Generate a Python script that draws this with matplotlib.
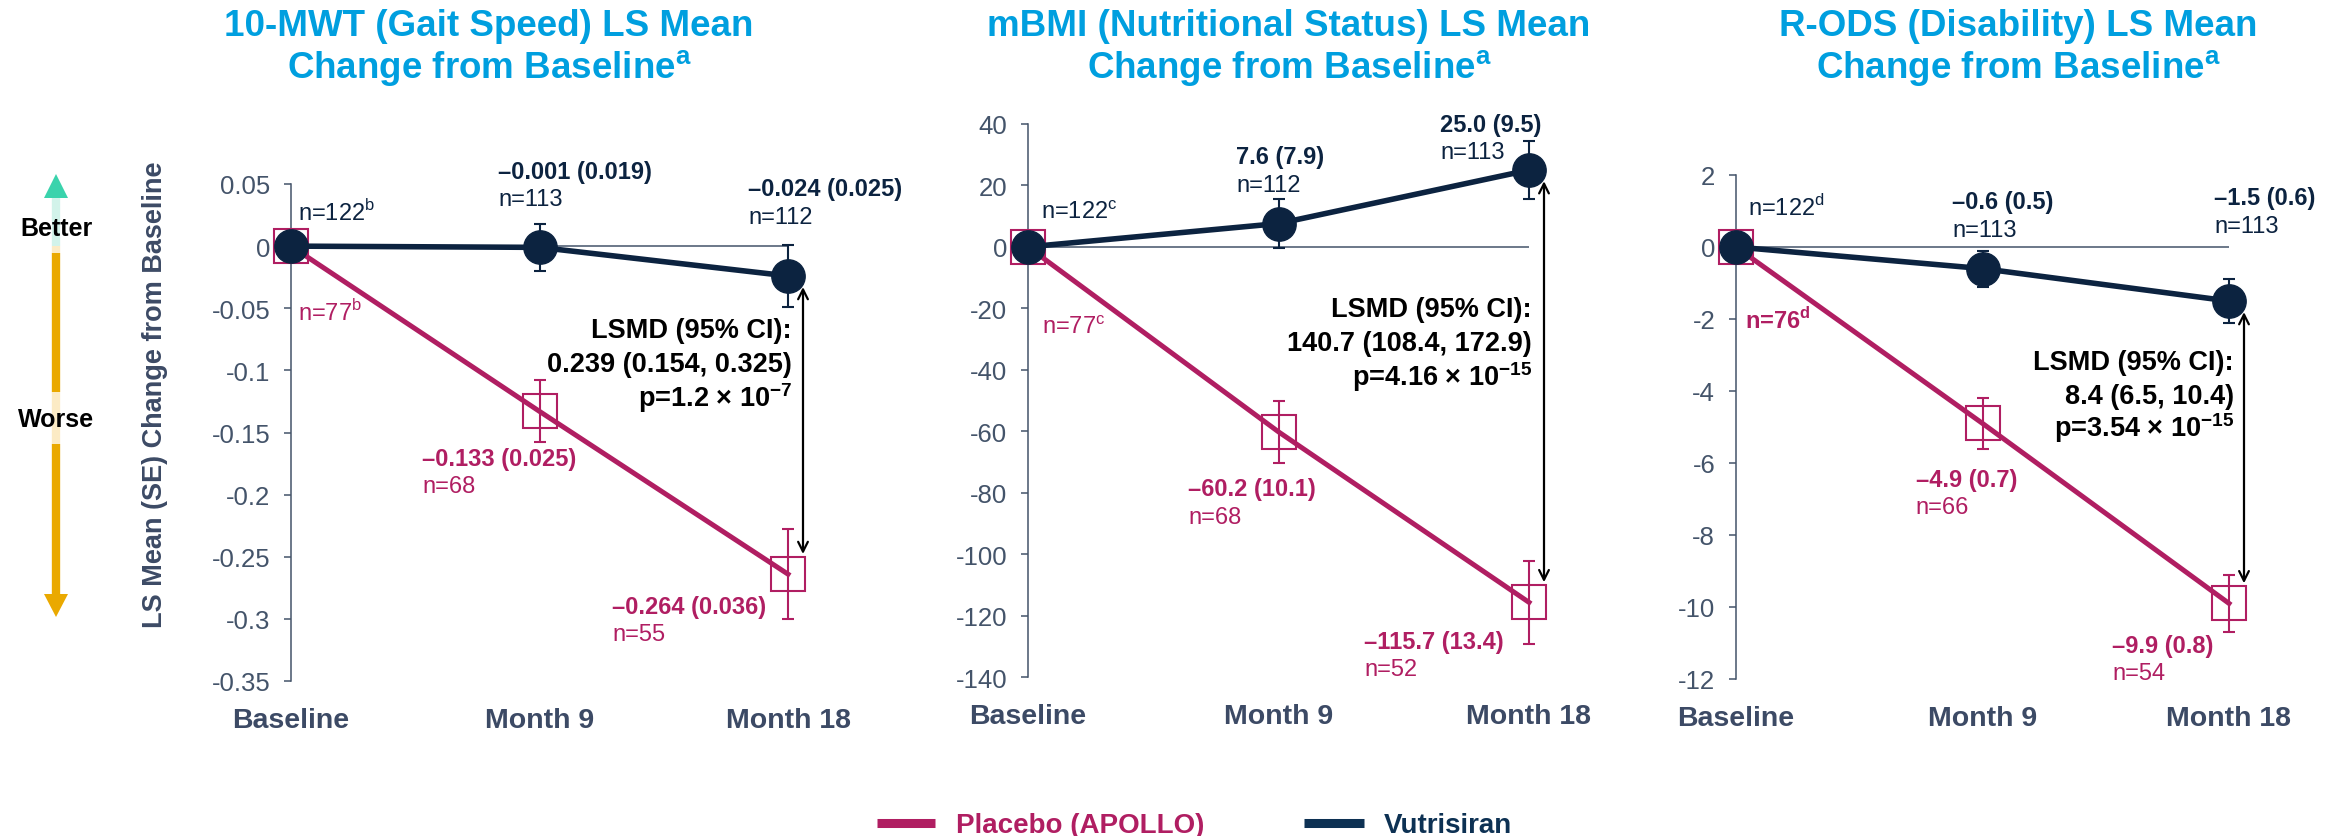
import matplotlib
matplotlib.use("Agg")
from matplotlib import pyplot as plt
from matplotlib.transforms import offset_copy
from matplotlib.patches import Polygon

plt.rcParams["font.family"] = ["Liberation Sans", "DejaVu Sans"]
plt.rcParams["mathtext.fontset"] = "custom"
plt.rcParams["mathtext.rm"] = "Liberation Sans"
plt.rcParams["mathtext.bf"] = "Liberation Sans:bold"
plt.rcParams["axes.unicode_minus"] = False

W, H, DPI = 2343, 837, 100

PLACEBO = "#B01E62"
VUTRI = "#0C2340"
SLATE = "#44546A"
XLAB = "#3C4A65"
TITLE_BLUE = "#009FDF"

visits = ["Baseline", "Month 9", "Month 18"]

# 10-MWT gait speed
mwt_vut = [0, -0.001, -0.024]
mwt_vut_se = [0, 0.019, 0.025]
mwt_vut_n = [122, 113, 112]
mwt_plc = [0, -0.133, -0.264]
mwt_plc_se = [0, 0.025, 0.036]
mwt_plc_n = [77, 68, 55]
mwt_ticks = [0.05, 0, -0.05, -0.1, -0.15, -0.2, -0.25, -0.3, -0.35]
mwt_lsmd = ["0.239 (0.154, 0.325)", "1.2", "-7"]

# mBMI nutritional status
bmi_vut = [0, 7.6, 25.0]
bmi_vut_se = [0, 7.9, 9.5]
bmi_vut_n = [122, 112, 113]
bmi_plc = [0, -60.2, -115.7]
bmi_plc_se = [0, 10.1, 13.4]
bmi_plc_n = [77, 68, 52]
bmi_ticks = [40, 20, 0, -20, -40, -60, -80, -100, -120, -140]
bmi_lsmd = ["140.7 (108.4, 172.9)", "4.16", "-15"]

# R-ODS disability
rods_vut = [0, -0.6, -1.5]
rods_vut_se = [0, 0.5, 0.6]
rods_vut_n = [122, 113, 113]
rods_plc = [0, -4.9, -9.9]
rods_plc_se = [0, 0.7, 0.8]
rods_plc_n = [76, 66, 54]
rods_ticks = [2, 0, -2, -4, -6, -8, -10, -12]
rods_lsmd = ["8.4 (6.5, 10.4)", "3.54", "-15"]

panels = [
    dict(title="10-MWT (Gait Speed) LS Mean", title_x=489,
         vut=mwt_vut, vut_se=mwt_vut_se, vut_n=mwt_vut_n,
         plc=mwt_plc, plc_se=mwt_plc_se, plc_n=mwt_plc_n,
         ticks=mwt_ticks, fmt="{:.3f}", foot="b", lsmd=mwt_lsmd,
         rect=(291, 185, 788, 682), lsmd_xy=(792, [331, 365, 398]),
         vut_off=[(7, -34), (-41, -76), (-40, -87)],
         plc_off=[(7, 66), (-117, 47), (-176, 32)],
         plc_n_bold=False),
    dict(title="mBMI (Nutritional Status) LS Mean", title_x=1289,
         vut=bmi_vut, vut_se=bmi_vut_se, vut_n=bmi_vut_n,
         plc=bmi_plc, plc_se=bmi_plc_se, plc_n=bmi_plc_n,
         ticks=bmi_ticks, fmt="{:.1f}", foot="c", lsmd=bmi_lsmd,
         rect=(1028, 125, 1529, 678), lsmd_xy=(1532, [310, 344, 377]),
         vut_off=[(13, -35), (-42, -67), (-89, -46)],
         plc_off=[(14, 80), (-90, 57), (-165, 39)],
         plc_n_bold=False),
    dict(title="R-ODS (Disability) LS Mean", title_x=2018,
         vut=rods_vut, vut_se=rods_vut_se, vut_n=rods_vut_n,
         plc=rods_plc, plc_se=rods_plc_se, plc_n=rods_plc_n,
         ticks=rods_ticks, fmt="{:.1f}", foot="d", lsmd=rods_lsmd,
         rect=(1736, 176, 2229, 680), lsmd_xy=(2234, [363, 397, 428]),
         vut_off=[(12, -40), (-30, -67), (-15, -103)],
         plc_off=[(9, 73), (-67, 56), (-117, 42)],
         plc_n_bold=True),
]

N_GAP = 28  # pixels between value line and n line

fig = plt.figure(figsize=(W / DPI, H / DPI), dpi=DPI)


def px_axes(left, top, right, bottom):
    return fig.add_axes([left / W, 1 - bottom / H, (right - left) / W, (bottom - top) / H])


def value_text(v, se, fmt):
    return (fmt.format(v) + " (" + fmt.format(se) + ")").replace("-", "\u2013")


for p in panels:
    ax = px_axes(*p["rect"])
    ax.set_facecolor("none")
    x = list(range(len(visits)))
    ax.set_xlim(0, 2)
    ax.set_ylim(p["ticks"][-1], p["ticks"][0])

    ax.plot([0, 2], [0, 0], color=SLATE, lw=1.1, zorder=1)

    # placebo
    ax.errorbar(x[1:], p["plc"][1:], yerr=p["plc_se"][1:], fmt="none", ecolor=PLACEBO,
                elinewidth=1.5, capsize=4.5, capthick=1.5, zorder=3, clip_on=False)
    ax.plot(x, p["plc"], color=PLACEBO, lw=3.6, zorder=3, clip_on=False)
    ax.plot(x, p["plc"], "s", ms=24, mfc="none", mec=PLACEBO, mew=1.5, zorder=3, clip_on=False)

    # vutrisiran
    ax.errorbar(x[1:], p["vut"][1:], yerr=p["vut_se"][1:], fmt="none", ecolor=VUTRI,
                elinewidth=1.5, capsize=4.5, capthick=1.5, zorder=4, clip_on=False)
    ax.plot(x, p["vut"], color=VUTRI, lw=4.0, zorder=5, clip_on=False)
    ax.plot(x, p["vut"], "o", ms=24, mfc=VUTRI, mec=VUTRI, zorder=5, clip_on=False)

    # LSMD arrow, nudged right of the Month 18 points
    shift = offset_copy(ax.transData, fig=fig, x=15, y=0, units="dots")
    ax.annotate("", xy=(2, p["plc"][2]), xytext=(2, p["vut"][2]),
                xycoords=shift, textcoords=shift,
                arrowprops=dict(arrowstyle="<->,head_length=0.7,head_width=0.35",
                                color="black", lw=1.6, shrinkA=8, shrinkB=14.5),
                zorder=2, annotation_clip=False)

    # value and n labels
    for i in range(3):
        dx, dy = p["vut_off"][i]
        if i == 0:
            ax.annotate("n=%d$^{\\mathrm{%s}}$" % (p["vut_n"][i], p["foot"]), (x[i], p["vut"][i]),
                        xytext=(dx, -dy), textcoords="offset pixels", ha="left", va="center",
                        fontsize=17, color=VUTRI, annotation_clip=False)
        else:
            ax.annotate(value_text(p["vut"][i], p["vut_se"][i], p["fmt"]), (x[i], p["vut"][i]),
                        xytext=(dx, -dy), textcoords="offset pixels", ha="left", va="center",
                        fontsize=17, fontweight="bold", color=VUTRI, annotation_clip=False)
            ax.annotate("n=%d" % p["vut_n"][i], (x[i], p["vut"][i]),
                        xytext=(dx, -dy - N_GAP), textcoords="offset pixels", ha="left",
                        va="center", fontsize=17, color=VUTRI, annotation_clip=False)

        dx, dy = p["plc_off"][i]
        if i == 0:
            if p["plc_n_bold"]:
                s = "n=%d$^{\\mathbf{%s}}$" % (p["plc_n"][i], p["foot"])
            else:
                s = "n=%d$^{\\mathrm{%s}}$" % (p["plc_n"][i], p["foot"])
            ax.annotate(s, (x[i], p["plc"][i]), xytext=(dx, -dy), textcoords="offset pixels",
                        ha="left", va="center", fontsize=17, color=PLACEBO,
                        fontweight="bold" if p["plc_n_bold"] else "normal",
                        annotation_clip=False)
        else:
            ax.annotate(value_text(p["plc"][i], p["plc_se"][i], p["fmt"]), (x[i], p["plc"][i]),
                        xytext=(dx, -dy), textcoords="offset pixels", ha="left", va="center",
                        fontsize=17, fontweight="bold", color=PLACEBO, annotation_clip=False)
            ax.annotate("n=%d" % p["plc_n"][i], (x[i], p["plc"][i]),
                        xytext=(dx, -dy - N_GAP), textcoords="offset pixels", ha="left",
                        va="center", fontsize=17, color=PLACEBO, annotation_clip=False)

    ax.set_yticks(p["ticks"])
    ax.set_yticklabels(["%g" % t for t in p["ticks"]])
    ax.set_xticks(x)
    ax.set_xticklabels(visits, fontweight="bold", color=XLAB, fontsize=20.5)
    for side in ["top", "right", "bottom"]:
        ax.spines[side].set_visible(False)
    ax.spines["left"].set_color(SLATE)
    ax.spines["left"].set_linewidth(1.1)
    ax.tick_params(axis="y", direction="out", length=5, width=1.1, color=SLATE,
                   labelcolor=SLATE, labelsize=18.5, pad=10)
    ax.tick_params(axis="x", length=0, pad=19)

# overlay in pixel coordinates for titles, side arrow, notes and legend
ov = fig.add_axes([0, 0, 1, 1], zorder=10)
ov.set_xlim(0, W)
ov.set_ylim(H, 0)
ov.axis("off")

for p in panels:
    ov.text(p["title_x"], 26, p["title"], ha="center", va="center", fontsize=26.5,
            fontweight="bold", color=TITLE_BLUE)
    ov.text(p["title_x"], 69, "Change from Baseline$^{\\mathbf{a}}$", ha="center", va="center",
            fontsize=26.5, fontweight="bold", color=TITLE_BLUE)
    rx, ys = p["lsmd_xy"]
    ov.text(rx, ys[0], "LSMD (95% CI):", ha="right", va="center", fontsize=19.5,
            fontweight="bold", color="black")
    ov.text(rx, ys[1], p["lsmd"][0], ha="right", va="center", fontsize=19.5,
            fontweight="bold", color="black")
    ov.text(rx, ys[2], "p=%s \u00d7 10$^{\\mathbf{%s}}$" % (p["lsmd"][1], p["lsmd"][2]),
            ha="right", va="center", fontsize=19.5, fontweight="bold", color="black")

ov.text(155, 395, "LS Mean (SE) Change from Baseline", rotation=90, ha="center", va="center",
        fontsize=19.5, fontweight="bold", color=XLAB)

# better / worse direction arrow
AX_X = 56
ov.add_patch(Polygon([(AX_X, 175), (AX_X - 12, 199), (AX_X + 12, 199)], closed=True,
                     color="#3AD3AC", lw=0))
ov.add_patch(Polygon([(AX_X, 618), (AX_X - 12, 595), (AX_X + 12, 595)], closed=True,
                     color="#EAA900", lw=0))
for y0, y1, c in [(199, 247, "#D2F3EA"), (247, 254, "#FCEBC5"), (254, 393, "#EAA900"),
                  (393, 445, "#FCEBC5"), (445, 596, "#EAA900")]:
    ov.plot([AX_X, AX_X], [y0, y1], color=c, lw=6, solid_capstyle="butt")
ov.text(AX_X, 229, "Better", ha="center", va="center", fontsize=18, fontweight="bold",
        color="black")
ov.text(AX_X, 420, "Worse", ha="center", va="center", fontsize=18, fontweight="bold",
        color="black")

# legend
ov.plot([877, 935], [824, 824], color=PLACEBO, lw=6.5, solid_capstyle="butt")
ov.text(956, 826, "Placebo (APOLLO)", ha="left", va="center", fontsize=20,
        fontweight="bold", color=PLACEBO)
ov.plot([1304, 1364], [824, 824], color="#0D3153", lw=6.5, solid_capstyle="butt")
ov.text(1384, 826, "Vutrisiran", ha="left", va="center", fontsize=20,
        fontweight="bold", color="#0D3153")

fig.savefig("out.png", dpi=DPI, facecolor="white")
